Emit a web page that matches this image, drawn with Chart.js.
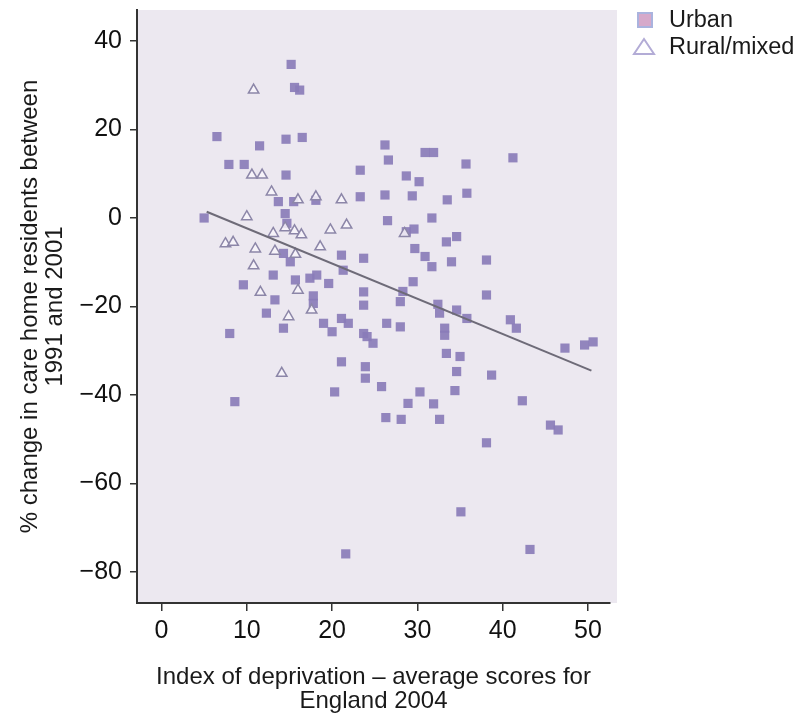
<!DOCTYPE html>
<html>
<head>
<meta charset="utf-8">
<script src="https://cdn.jsdelivr.net/npm/chart.js@4.4.1/dist/chart.umd.min.js"></script>
<style>
  html, body { margin: 0; padding: 0; background: #ffffff; }
  #wrap { position: relative; width: 800px; height: 720px; }
</style>
</head>
<body>
<div id="wrap"><canvas id="c"></canvas></div>
<script>
// ---- data ----
const xTicks = [0, 10, 20, 30, 40, 50];
const yTicks = [40, 20, 0, -20, -40, -60, -80];
const seriesNames = ['Urban', 'Rural/mixed'];
const xTitle = ['Index of deprivation \u2013 average scores for', 'England 2004'];
const yTitle = ['% change in care home residents between', '1991 and 2001'];

const urbanX = [5.0, 6.5, 7.9, 9.7, 11.5, 14.6, 16.5, 15.2, 15.6, 16.2, 14.6, 23.3, 13.7, 15.5, 18.1, 23.3, 14.5, 14.7,
  26.2, 30.9, 31.9, 26.6, 41.2, 35.7, 28.7, 30.2, 26.2, 29.4, 33.5, 35.8, 26.5, 31.7, 28.7, 29.6, 33.4, 34.6,
  29.7, 30.9, 31.7, 34.0, 38.1, 23.7, 21.1, 21.3, 29.5, 38.1, 28.3, 28.0, 23.7, 23.7, 32.4, 32.6, 34.6, 35.8,
  40.9, 41.6, 47.3, 49.6, 50.6, 26.4, 28.0, 24.1, 24.8, 33.2, 33.2, 33.4, 35.0, 34.6, 38.7, 23.9, 23.9, 25.8,
  30.3, 28.9, 31.9, 34.4, 42.3, 26.3, 28.1, 32.6, 8.6, 45.6, 46.5, 38.1, 35.1, 21.6, 43.2, 14.3, 15.1, 13.1,
  9.6, 15.7, 17.4, 18.2, 19.6, 13.3, 17.8, 17.8, 12.3, 14.3, 21.1, 21.9, 19.0, 20.0, 8.0, 23.7, 21.1, 20.3];
const urbanY = [0.0, 18.4, 12.1, 12.1, 16.3, 17.8, 18.2, 34.7, 29.5, 28.9, 9.7, 10.8, 3.7, 3.7, 4.0, 4.8, 1.0, -1.2,
  16.5, 14.8, 14.8, 13.1, 13.6, 12.2, 9.5, 8.2, 5.2, 5.0, 4.1, 5.6, -0.6, 0.0, -3.1, -2.5, -5.4, -4.2,
  -6.9, -8.7, -11.0, -9.9, -9.5, -9.1, -8.4, -11.8, -14.4, -17.4, -16.6, -18.9, -16.7, -19.7, -19.5, -21.5, -20.8, -22.7,
  -23.0, -24.9, -29.4, -28.7, -28.0, -23.8, -24.6, -26.8, -28.3, -24.9, -26.5, -30.6, -31.3, -34.7, -35.5, -33.6, -36.2, -38.1,
  -39.3, -41.9, -42.0, -39.0, -41.3, -45.1, -45.5, -45.5, -41.5, -46.8, -47.9, -50.8, -66.4, -75.9, -74.9, -8.0, -9.9, -12.9,
  -15.1, -14.0, -13.6, -12.9, -14.8, -18.5, -17.6, -19.3, -21.5, -24.9, -22.7, -23.8, -23.8, -25.7, -26.1, -26.1, -32.5, -39.3];

const ruralX = [10.8, 10.6, 11.8, 12.9, 16.0, 18.1, 21.1, 10.0, 7.5, 8.4, 11.0, 10.8, 13.1, 14.5, 15.6, 16.4, 19.8, 21.7,
  18.6, 15.7, 13.3, 16.0, 11.6, 17.6, 14.9, 14.1, 28.5];
const ruralY = [28.9, 9.7, 9.7, 5.9, 4.1, 4.8, 4.1, 0.3, -5.8, -5.5, -7.0, -10.8, -3.5, -2.2, -2.9, -3.8, -2.7, -1.6,
  -6.5, -8.2, -7.5, -16.3, -16.8, -20.8, -22.3, -35.1, -3.5];

const fitX = [5.3, 50.4];
const fitY = [1.4, -34.5];

// ---- build ----
const toPts = (xs, ys) => xs.map((x, i) => ({ x: x, y: ys[i] }));
const TEXT_FONT = "'Liberation Sans', Arial, sans-serif";
const TICK_FONT = "'Liberation Sans Narrow', 'Liberation Sans', Arial, sans-serif";

const plotBg = {
  id: 'plotBg',
  beforeDraw(chart) {
    const { ctx, chartArea: a } = chart;
    ctx.save();
    ctx.fillStyle = '#ece8f0';
    ctx.fillRect(a.left, a.top, a.right - a.left + 7, a.bottom - a.top);
    ctx.restore();
  }
};

const customLegend = {
  id: 'customLegend',
  afterDraw(chart) {
    const ctx = chart.ctx;
    ctx.save();
    ctx.fillStyle = '#d6a9ca';
    ctx.strokeStyle = '#aab3de';
    ctx.lineWidth = 2;
    ctx.fillRect(638, 13, 14, 14);
    ctx.strokeRect(638, 13, 14, 14);
    ctx.strokeStyle = '#b3acd6';
    ctx.lineWidth = 2;
    ctx.beginPath();
    ctx.moveTo(644, 39);
    ctx.lineTo(654, 54);
    ctx.lineTo(634, 54);
    ctx.closePath();
    ctx.stroke();
    ctx.fillStyle = '#1a1a1a';
    ctx.font = "23.5px " + TEXT_FONT;
    ctx.textAlign = 'left';
    ctx.textBaseline = 'middle';
    ctx.fillText(seriesNames[0], 669, 21);
    ctx.fillText(seriesNames[1], 669, 48);
    ctx.restore();
  }
};

new Chart(document.getElementById('c'), {
  type: 'scatter',
  data: {
    datasets: [
      {
        label: 'fit', type: 'line', data: toPts(fitX, fitY),
        borderColor: '#6e6b78', borderWidth: 2, pointRadius: 0, fill: false, order: 0
      },
      {
        label: seriesNames[1], data: toPts(ruralX, ruralY),
        pointStyle: 'triangle', pointRadius: 6, backgroundColor: 'rgba(248,245,250,0.85)',
        borderColor: '#8c86a8', borderWidth: 1.5, order: 1
      },
      {
        label: seriesNames[0], data: toPts(urbanX, urbanY),
        pointStyle: 'rect', pointRadius: 6.5, backgroundColor: 'rgba(138,124,184,0.92)',
        borderWidth: 0, order: 2
      }
    ]
  },
  options: {
    responsive: true,
    maintainAspectRatio: false,
    animation: false,
    layout: { padding: { left: 0, right: 190, top: 10, bottom: 0 } },
    plugins: { legend: { display: false }, tooltip: { enabled: false } },
    scales: {
      x: {
        type: 'linear', min: -2.87, max: 52.58,
        afterBuildTicks: s => { s.ticks = xTicks.map(v => ({ value: v })); },
        afterFit: s => { s.height = 117; s.paddingLeft = 0; s.paddingRight = 0; },
        grid: { drawOnChartArea: false, drawTicks: true, tickLength: 8, color: '#333', lineWidth: 1.5 },
        border: { display: true, color: '#333', width: 2 },
        ticks: { color: '#111', font: { family: TICK_FONT, size: 25 }, padding: 5, maxRotation: 0 },
        title: {
          display: true, text: xTitle, color: '#1a1a1a',
          font: { family: TEXT_FONT, size: 24, lineHeight: 1.0 }, padding: { top: 0, bottom: 7 }
        }
      },
      y: {
        type: 'linear', min: -87.0, max: 47.0,
        afterBuildTicks: s => { s.ticks = yTicks.map(v => ({ value: v })); },
        afterFit: s => { s.width = 137; s.paddingTop = 0; s.paddingBottom = 0; },
        grid: { drawOnChartArea: false, drawTicks: true, tickLength: 7, color: '#333', lineWidth: 1.5 },
        border: { display: true, color: '#333', width: 2 },
        ticks: {
          color: '#111', font: { family: TICK_FONT, size: 25 }, padding: 8,
          callback: v => (v < 0 ? '\u2212' + Math.abs(v) : String(v))
        },
        title: {
          display: true, text: yTitle, color: '#1a1a1a',
          font: { family: TEXT_FONT, size: 24, lineHeight: 1.04 }, padding: { top: 18, bottom: 0 }
        }
      }
    }
  },
  plugins: [plotBg, customLegend]
});
</script>
</body>
</html>
